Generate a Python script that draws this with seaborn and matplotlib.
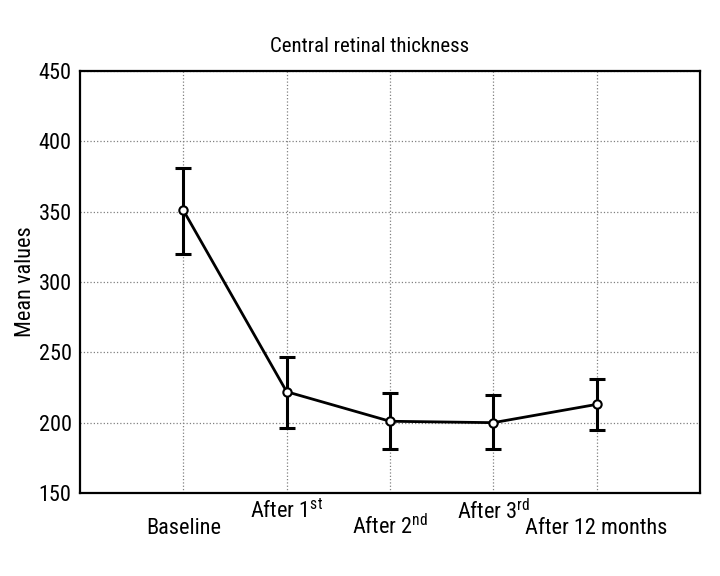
import matplotlib
matplotlib.use("Agg")
import matplotlib.pyplot as plt
import seaborn as sns
import numpy as np
import pandas as pd
from matplotlib import font_manager
from matplotlib.font_manager import FontProperties

categories = ["Baseline", "After 1$^{\\mathrm{st}}$", "After 2$^{\\mathrm{nd}}$", "After 3$^{\\mathrm{rd}}$", "After 12 months"]
means = [351, 222, 201, 200, 213]
upper = [381, 247, 221, 220, 231]
lower = [320, 196, 181, 181, 195]
yticks = [150, 200, 250, 300, 350, 400, 450]

sns.set_theme(style="white")
cands = ["Liberation Sans Narrow", "Roboto Condensed", "Open Sans Condensed", "Noto Sans Condensed"]
names = {f.name for f in font_manager.fontManager.ttflist}
fam = next((c for c in cands if c in names), "DejaVu Sans")
plt.rcParams["font.family"] = [fam, "DejaVu Sans"]
plt.rcParams["font.stretch"] = "condensed"
plt.rcParams["text.color"] = "black"
plt.rcParams["axes.labelcolor"] = "black"
plt.rcParams["mathtext.fontset"] = "custom"
plt.rcParams["mathtext.rm"] = fam + ":stretch=condensed"

fp = FontProperties(family=[fam, "DejaVu Sans"], stretch="condensed")

fig = plt.figure(figsize=(7.2, 5.76), dpi=100)
ax = fig.add_axes([80/720, 1-493/576, (700-80)/720, (493-71)/576])

x = np.arange(len(categories))
df = pd.DataFrame({"x": x, "mean": means})
err = np.array([np.array(means) - np.array(lower), np.array(upper) - np.array(means)])
ax.errorbar(x, means, yerr=err, fmt="none", ecolor="black", elinewidth=2.2, capsize=5.5, capthick=2.2, zorder=3)
sns.lineplot(data=df, x="x", y="mean", ax=ax, color="black", linewidth=2, marker="o",
             markersize=6, markerfacecolor="white", markeredgecolor="black", markeredgewidth=1.5, zorder=4)

ax.set_xlim(-1, 5)
ax.set_ylim(150, 450)
ax.set_yticks(yticks)
ax.set_xticks(x)
ax.set_xticklabels(categories)
ax.grid(True, color="gray", linestyle=":", linewidth=0.9)
for s in ax.spines.values():
    s.set_color("black")
    s.set_linewidth(1.6)
ax.tick_params(axis="both", direction="in", length=4, width=1.2, colors="black")
ax.tick_params(axis="y", pad=6)
for lab in ax.get_xticklabels() + ax.get_yticklabels():
    lab.set_fontproperties(fp)
    lab.set_fontsize(16)
pads = [18, 4, 15, 4, 18]
for t, p in zip(ax.xaxis.get_major_ticks(), pads):
    t.set_pad(p)
ax.set_xlabel("")
ax.set_ylabel("Mean values", fontproperties=fp, fontsize=16, labelpad=2)
fig.text(370/720, 1-47/576, "Central retinal thickness", ha="center", va="center",
         fontproperties=fp, fontsize=15)
fig.savefig("out.png", dpi=100)
